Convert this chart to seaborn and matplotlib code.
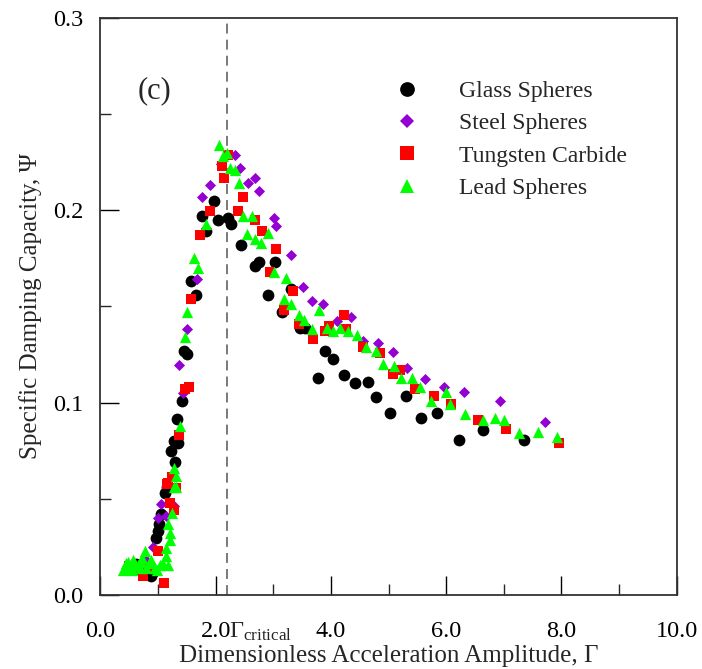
import matplotlib
matplotlib.use("Agg")
import matplotlib.pyplot as plt
import matplotlib.transforms as mtransforms
from matplotlib.lines import Line2D
from matplotlib.ticker import MultipleLocator, FormatStrFormatter
import seaborn as sns
import pandas as pd

# ---------------- data ----------------
glass_x = [0.50, 0.62, 0.71, 0.75, 0.78, 0.82, 0.88, 0.92, 0.96, 1.00, 1.01, 1.055, 1.12,
           1.16, 1.23, 1.27, 1.30, 1.34, 1.336, 1.42, 1.457, 1.509, 1.572, 1.659, 1.762,
           1.836, 1.974, 2.043, 2.216, 2.267, 2.44, 2.68, 2.76, 2.905, 3.03, 3.15, 3.30,
           3.47, 3.555, 3.77, 3.90, 4.03, 4.23, 4.42, 4.65, 4.79, 5.03, 5.30, 5.57, 5.84,
           6.22, 6.64, 7.35]
glass_y = [0.014, 0.016, 0.013, 0.013, 0.012, 0.011, 0.0095, 0.012, 0.0295, 0.033, 0.037,
           0.042, 0.053, 0.056, 0.075, 0.080, 0.069, 0.079, 0.0914, 0.101, 0.127, 0.125,
           0.163, 0.156, 0.197, 0.189, 0.205, 0.195, 0.196, 0.193, 0.182, 0.171, 0.173,
           0.156, 0.173, 0.147, 0.159, 0.139, 0.139, 0.1127, 0.127, 0.1226, 0.1143, 0.110,
           0.1105, 0.103, 0.0947, 0.1034, 0.0918, 0.0944, 0.0805, 0.0857, 0.0805]

steel_x = [0.55, 0.70, 0.80, 0.91, 1.00, 1.055, 1.13, 1.27, 1.37, 1.43, 1.50, 1.68, 1.76,
           1.905, 2.09, 2.33, 2.42, 2.56, 2.69, 2.75, 3.01, 3.05, 3.31, 3.51, 3.67, 3.86,
           4.11, 4.35, 4.55, 4.82, 5.08, 5.32, 5.64, 5.97, 6.31, 6.93, 7.72]
steel_y = [0.016, 0.012, 0.018, 0.025, 0.040, 0.047, 0.041, 0.046, 0.1195, 0.105, 0.138,
           0.164, 0.207, 0.213, 0.224, 0.229, 0.222, 0.214, 0.217, 0.210, 0.196, 0.192,
           0.177, 0.160, 0.153, 0.151, 0.1425, 0.1446, 0.132, 0.131, 0.1264, 0.118,
           0.112, 0.108, 0.1056, 0.101, 0.0897]

tungsten_x = [0.50, 0.74, 0.85, 1.00, 1.11, 1.15, 1.17, 1.20, 1.245, 1.28, 1.32, 1.37,
              1.46, 1.53, 1.57, 1.73, 1.905, 2.11, 2.15, 2.22, 2.39, 2.47, 2.68, 2.80,
              2.95, 3.04, 3.18, 3.34, 3.45, 3.69, 3.89, 3.97, 4.22, 4.27, 4.56, 4.86,
              5.08, 5.19, 5.46, 5.78, 6.08, 6.55, 7.03, 7.96]
tungsten_y = [0.015, 0.0095, 0.014, 0.0225, 0.006, 0.0577, 0.058, 0.0476, 0.0615, 0.044,
              0.0554, 0.083, 0.107, 0.108, 0.154, 0.187, 0.1995, 0.223, 0.217, 0.2286,
              0.1995, 0.207, 0.195, 0.189, 0.168, 0.180, 0.148, 0.158, 0.141, 0.133,
              0.137, 0.140, 0.1455, 0.138, 0.1287, 0.126, 0.115, 0.117, 0.107, 0.1035,
              0.099, 0.091, 0.086, 0.079]

lead_x = [0.40, 0.45, 0.45, 0.48, 0.50, 0.55, 0.565, 0.60, 0.65, 0.68, 0.70, 0.72, 0.77,
          0.80, 0.85, 0.88, 0.94, 0.98, 1.03, 1.08, 1.13, 1.14, 1.17, 1.20, 1.20, 1.17,
          1.245, 1.28, 1.32, 1.27, 1.32, 1.38, 1.47, 1.51, 1.62, 1.69, 1.84, 2.05, 2.12,
          2.19, 2.25, 2.34, 2.41, 2.47, 2.55, 2.63, 2.69, 2.78, 2.91, 3.01, 3.22, 3.18,
          3.31, 3.44, 3.54, 3.67, 3.80, 3.93, 4.04, 4.16, 4.30, 4.46, 4.60, 4.78, 4.91,
          5.09, 5.22, 5.41, 5.55, 5.74, 6.00, 6.07, 6.32, 6.64, 6.84, 7.00, 7.27, 7.59,
          7.92]
lead_y = [0.013, 0.0165, 0.014, 0.017, 0.015, 0.013, 0.018, 0.016, 0.0156, 0.014, 0.017,
          0.019, 0.0225, 0.014, 0.0165, 0.018, 0.014, 0.013, 0.0156, 0.016, 0.020, 0.0243,
          0.0156, 0.0286, 0.032, 0.037, 0.0424, 0.056, 0.056, 0.066, 0.062, 0.088, 0.134,
          0.147, 0.175, 0.170, 0.193, 0.234, 0.228, 0.230, 0.222, 0.221, 0.214, 0.197,
          0.1875, 0.197, 0.185, 0.183, 0.188, 0.168, 0.165, 0.154, 0.1515, 0.1455, 0.143,
          0.138, 0.148, 0.139, 0.137, 0.139, 0.137, 0.135, 0.129, 0.127, 0.120, 0.119,
          0.113, 0.113, 0.108, 0.101, 0.1056, 0.099, 0.094, 0.091, 0.092, 0.091, 0.084,
          0.0845, 0.082]

series_names = ["Glass Spheres", "Steel Spheres", "Tungsten Carbide", "Lead Spheres"]
gamma_critical = 2.2
x_ticks = [0, 2, 4, 6, 8, 10]
y_ticks = [0.0, 0.1, 0.2, 0.3]

# ---------------- style ----------------
sns.set_theme(style="ticks")
plt.rcParams["font.family"] = ["Liberation Serif", "DejaVu Serif"]
plt.rcParams["mathtext.fontset"] = "custom"
plt.rcParams["mathtext.rm"] = "Liberation Serif"
plt.rcParams["mathtext.it"] = "Liberation Serif:italic"

colors = {"Glass Spheres": "#000000", "Steel Spheres": "#9400D3",
          "Tungsten Carbide": "#FF0000", "Lead Spheres": "#00FF00"}
markers = {"Glass Spheres": "o", "Steel Spheres": "D",
           "Tungsten Carbide": "s", "Lead Spheres": "^"}
sizes = {"Glass Spheres": 72, "Steel Spheres": 32,
         "Tungsten Carbide": 54, "Lead Spheres": 66}

data = {
    "Glass Spheres": (glass_x, glass_y),
    "Steel Spheres": (steel_x, steel_y),
    "Tungsten Carbide": (tungsten_x, tungsten_y),
    "Lead Spheres": (lead_x, lead_y),
}

fig = plt.figure(figsize=(7.02, 6.69), dpi=100)
ax = fig.add_axes([0.143, 0.111, 0.821, 0.862])

ax.axvline(gamma_critical, color="#555555", lw=1.1, ls=(0, (6.5, 4)), zorder=1)

for name in series_names:
    xs, ys = data[name]
    df = pd.DataFrame({"Gamma": xs, "Psi": ys})
    sns.scatterplot(data=df, x="Gamma", y="Psi", ax=ax, marker=markers[name],
                    color=colors[name], s=sizes[name], linewidth=0, legend=False,
                    zorder=3)

ax.set_xlim(0, 10)
ax.set_ylim(0, 0.3)
ax.set_xticks(x_ticks)
ax.xaxis.set_major_formatter(FormatStrFormatter("%.1f"))
ax.xaxis.set_minor_locator(MultipleLocator(1))
ax.set_yticks(y_ticks)
ax.yaxis.set_major_formatter(FormatStrFormatter("%.1f"))
ax.yaxis.set_minor_locator(MultipleLocator(0.05))

tick_fs = 17.5
x_pad = 19
ax.tick_params(axis="both", which="major", direction="in", length=14, width=1,
               labelsize=tick_fs, colors="black")
ax.tick_params(axis="x", which="major", pad=x_pad)
ax.tick_params(axis="y", which="major", pad=12)
ax.tick_params(axis="both", which="minor", direction="in", length=8, width=1)
for sp in ax.spines.values():
    sp.set_linewidth(1.3)
    sp.set_color("#333333")

ax.set_xlabel("Dimensionless Acceleration Amplitude, Γ", fontsize=18, labelpad=2)
ax.set_ylabel("Specific Damping Capacity, Ψ", fontsize=18, labelpad=8)

# Gamma critical label aligned with the tick labels
trans = mtransforms.offset_copy(ax.get_xaxis_transform(), fig=fig, y=-x_pad, units="points")
ax.text(gamma_critical + 0.04, 0, r"$\Gamma_{\mathrm{critical}}$", fontsize=tick_fs,
        ha="left", va="top", transform=trans, clip_on=False)

ax.text(0.94, 0.262, "(c)", fontsize=22, ha="center", va="center")

handles = [Line2D([], [], linestyle="none", marker="o", markersize=10.6, color=colors["Glass Spheres"], markeredgewidth=0),
           Line2D([], [], linestyle="none", marker="D", markersize=7.5, color=colors["Steel Spheres"], markeredgewidth=0),
           Line2D([], [], linestyle="none", marker="s", markersize=10.4, color=colors["Tungsten Carbide"], markeredgewidth=0),
           Line2D([], [], linestyle="none", marker="^", markersize=10.6, color=colors["Lead Spheres"], markeredgewidth=0)]
ax.legend(handles, series_names, loc="upper left", bbox_to_anchor=(0.516, 0.911),
          bbox_transform=fig.transFigure, frameon=False, fontsize=17,
          handletextpad=1.2, labelspacing=0.45, borderpad=0.4)

fig.savefig("out.png", dpi=100)
